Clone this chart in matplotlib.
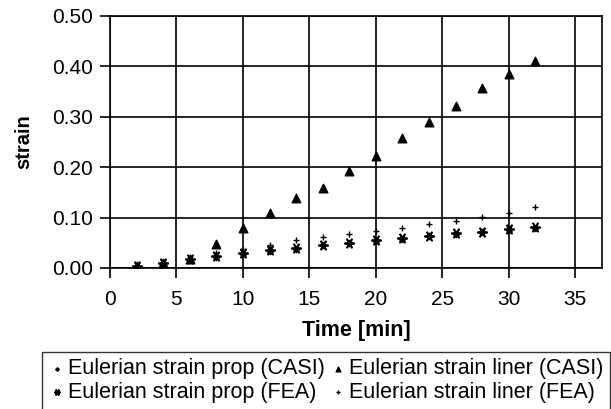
import numpy as np
import matplotlib
matplotlib.use('Agg')
import matplotlib.pyplot as plt

plt.rcParams['font.family'] = ['Liberation Sans', 'DejaVu Sans']

# data
time_min = [2, 4, 6, 8, 10, 12, 14, 16, 18, 20, 22, 24, 26, 28, 30, 32]
prop_casi = [0.002, 0.008, 0.016, 0.022, 0.028, 0.034, 0.038, 0.045, 0.049,
             0.054, 0.058, 0.063, 0.068, 0.071, 0.076, 0.080]
prop_fea = [0.003, 0.009, 0.017, 0.023, 0.029, 0.035, 0.040, 0.046, 0.050,
            0.055, 0.059, 0.064, 0.069, 0.072, 0.077, 0.081]
liner_casi = [0.003, 0.010, 0.018, 0.047, 0.080, 0.108, 0.138, 0.158, 0.192,
              0.222, 0.257, 0.289, 0.322, 0.358, 0.385, 0.410]
liner_fea = [0.004, 0.012, 0.020, 0.030, 0.036, 0.046, 0.055, 0.062, 0.068,
             0.074, 0.080, 0.087, 0.094, 0.101, 0.108, 0.120]

x_ticks = [0, 5, 10, 15, 20, 25, 30, 35]
y_ticks = [0.0, 0.1, 0.2, 0.3, 0.4, 0.5]

fig = plt.figure(figsize=(6.11, 4.09), dpi=100)
ax = fig.add_axes([0.18, 0.345, 0.805, 0.616])

ax.scatter(time_min, prop_casi, marker='D', s=10, color='black', zorder=3,
           label='Eulerian strain prop (CASI)')
ax.scatter(time_min, prop_fea, marker=(6, 2, 90), s=45, color='black',
           linewidths=1.3, zorder=3, label='Eulerian strain prop (FEA)')
ax.scatter(time_min, liner_casi, marker='^', s=38, color='black', zorder=3,
           label='Eulerian strain liner (CASI)')
ax.scatter(time_min, liner_fea, marker='+', s=22, color='black',
           linewidths=1.0, zorder=3, label='Eulerian strain liner (FEA)')

ax.set_xlim(0, 37)
ax.set_ylim(0, 0.5)
ax.set_xticks(x_ticks)
ax.set_yticks(y_ticks)
ax.set_yticklabels([f'{v:.2f}' for v in y_ticks])
ax.grid(True, color='black', linewidth=1.2)
ax.set_axisbelow(True)
for sp in ax.spines.values():
    sp.set_linewidth(1.2)
ax.tick_params(direction='out', length=7, width=1.2, labelsize=15, pad=5)
ax.tick_params(axis='x', pad=9)

ax.set_xlabel('Time [min]', fontsize=15.5, fontweight='bold', labelpad=8)
ax.set_ylabel('strain', fontsize=14.5, fontweight='bold', labelpad=14)

# legend: 2 columns in a plain box under the axes
leg = fig.legend(ncol=2, loc='upper left',
                 bbox_to_anchor=(42 / 611, 0.0, 568 / 611, 1 - 352 / 409),
                 mode='expand', fontsize=15.5, frameon=True, fancybox=False,
                 edgecolor='black', borderpad=0.3, handletextpad=0.1,
                 labelspacing=0.12, handlelength=0.8, borderaxespad=0,
                 scatterpoints=1, columnspacing=0.3, markerscale=0.55)
leg.get_frame().set_linewidth(1.0)

fig.savefig('out.png', dpi=100)
